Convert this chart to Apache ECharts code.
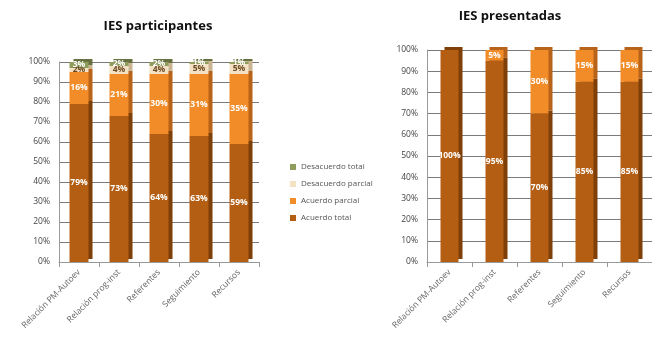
<!DOCTYPE html>
<html><head><meta charset="utf-8">
<script src="https://cdn.jsdelivr.net/npm/echarts@6/dist/echarts.min.js"></script>
<style>html,body{margin:0;padding:0;background:#fff}#c{width:652px;height:337px}</style>
</head><body><div id="c"></div>
<script>
const categories = ["Relación PM-Autoev", "Relación prog-inst", "Referentes", "Seguimiento", "Recursos"];
const seriesNames = ["Acuerdo total", "Acuerdo parcial", "Desacuerdo parcial", "Desacuerdo total"];
// IES participantes
const partAcuerdoTotal = [79, 73, 64, 63, 59];
const partAcuerdoParcial = [16, 21, 30, 31, 35];
const partDesacuerdoParcial = [2, 4, 4, 5, 5];
const partDesacuerdoTotal = [3, 2, 2, 1, 1];
// IES presentadas
const presAcuerdoTotal = [100, 95, 70, 85, 85];
const presAcuerdoParcial = [0, 5, 30, 15, 15];
const presDesacuerdoParcial = [0, 0, 0, 0, 0];
const presDesacuerdoTotal = [0, 0, 0, 0, 0];
const yTicks = [0, 10, 20, 30, 40, 50, 60, 70, 80, 90, 100];

const colors = ["#B35E12", "#F28C28", "#F4E2C4", "#8E9C5C"];
const sideColors = ["#7E3F08", "#B8631A", "#C9B593", "#667040"];
const labelColors = ["#fff", "#fff", "#6b4a20", "#fff"];
const font = "Open Sans";

function mk(data, idx, gi, stack) {
  return {
    name: seriesNames[idx], type: 'bar', stack: stack, xAxisIndex: gi, yAxisIndex: gi,
    data: data.map(v => v > 0 ? v : '-'), barWidth: gi === 0 ? 19 : 18,
    itemStyle: { color: colors[idx], shadowColor: sideColors[idx], shadowOffsetX: 4, shadowOffsetY: -3, shadowBlur: 0 },
    label: { show: true, position: 'inside', color: labelColors[idx], fontSize: 8.5, fontWeight: 'bold', fontFamily: font,
      formatter: p => p.value > 0 ? p.value + '%' : '' }
  };
}
const partSets = [partAcuerdoTotal, partAcuerdoParcial, partDesacuerdoParcial, partDesacuerdoTotal];
const presSets = [presAcuerdoTotal, presAcuerdoParcial, presDesacuerdoParcial, presDesacuerdoTotal];
const series = [];
partSets.forEach((d, i) => series.push(mk(d, i, 0, 'a')));
presSets.forEach((d, i) => series.push(mk(d, i, 1, 'b')));

function xAx(gi) {
  return { type: 'category', gridIndex: gi, data: categories,
    axisLine: { lineStyle: { color: '#999' } }, axisTick: { show: true, lineStyle: { color: '#999' } },
    axisLabel: { rotate: 45, fontSize: 8.5, color: '#666', fontFamily: font, margin: 9, interval: 0 } };
}
function yAx(gi) {
  return { type: 'value', gridIndex: gi, min: 0, max: 100, interval: 10,
    axisLine: { show: true, lineStyle: { color: '#999' } },
    axisLabel: { formatter: v => yTicks.includes(v) ? v + '%' : '', fontSize: 8.5, color: '#444', fontFamily: font, margin: 9 },
    splitLine: { lineStyle: { color: '#7a7a7a' } } };
}

const chart = echarts.init(document.getElementById('c'));
chart.setOption({
  animation: false,
  color: colors,
  title: [
    { text: 'IES participantes', left: 153, top: 15, textAlign: 'center', textStyle: { fontSize: 13, fontWeight: 'bold', color: '#111', fontFamily: font } },
    { text: 'IES presentadas', left: 505, top: 5, textAlign: 'center', textStyle: { fontSize: 13, fontWeight: 'bold', color: '#111', fontFamily: font } }
  ],
  legend: {
    orient: 'vertical', left: 285, top: 158, itemWidth: 6, itemHeight: 6, itemGap: 9,
    data: seriesNames.slice().reverse(),
    textStyle: { fontSize: 8, color: '#555', fontFamily: font }, icon: 'rect'
  },
  grid: [
    { left: 59, width: 200, top: 62, bottom: 75 },
    { left: 427, width: 227, top: 50, bottom: 75 }
  ],
  xAxis: [xAx(0), xAx(1)],
  yAxis: [yAx(0), yAx(1)],
  series: series
});
</script></body></html>
